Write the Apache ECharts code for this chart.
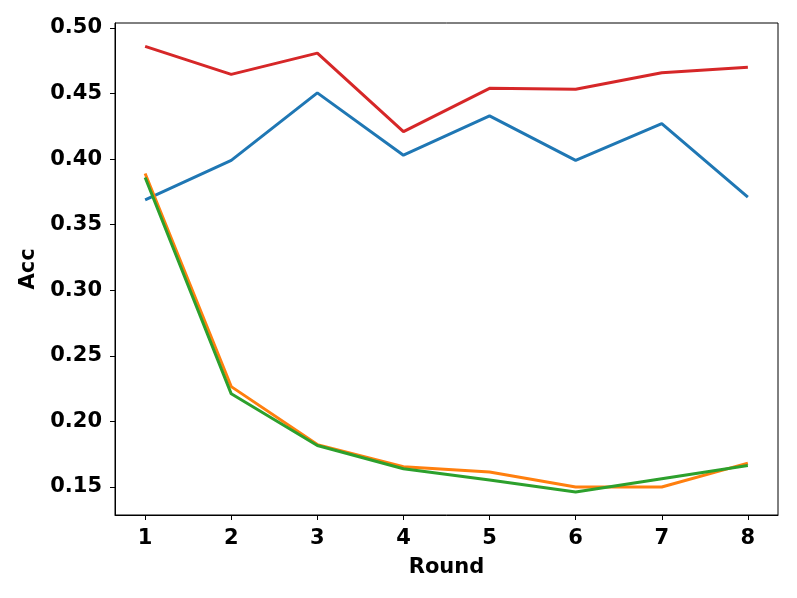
<!DOCTYPE html>
<html>
<head>
<meta charset="utf-8">
<script src="https://cdn.jsdelivr.net/npm/echarts@6/dist/echarts.min.js"></script>
<style>
  html, body { margin: 0; padding: 0; background: #fff; }
  #chart { width: 797px; height: 598px; }
</style>
</head>
<body>
<div id="chart"></div>
<script>
// x 轴：轮次
const rounds = [1, 2, 3, 4, 5, 6, 7, 8];
const yTicks = [0.15, 0.20, 0.25, 0.30, 0.35, 0.40, 0.45, 0.50];

// 四条曲线
const blueAcc = [0.369, 0.399, 0.4505, 0.403, 0.433, 0.399, 0.427, 0.371];
const orangeAcc = [0.389, 0.2265, 0.1823, 0.1654, 0.1614, 0.150, 0.150, 0.1682];
const greenAcc = [0.386, 0.221, 0.1816, 0.1639, 0.1553, 0.1462, 0.1563, 0.1664];
const redAcc = [0.486, 0.4646, 0.4808, 0.421, 0.454, 0.4533, 0.4659, 0.470];

const seriesDefs = [
    { name: 'blue', data: blueAcc, color: '#1f77b4' },
    { name: 'orange', data: orangeAcc, color: '#ff7f0e' },
    { name: 'green', data: greenAcc, color: '#2ca02c' },
    { name: 'red', data: redAcc, color: '#d62728' }
];

const font = 'DejaVu Sans';
const chart = echarts.init(document.getElementById('chart'));

const option = {
    animation: false,
    backgroundColor: '#fff',
    grid: {
        left: 115,
        right: 19,
        top: 23,
        bottom: 83,
        show: true,
        borderColor: '#000',
        borderWidth: 1,
        backgroundColor: 'transparent'
    },
    xAxis: {
        type: 'value',
        min: 0.65,
        max: 8.35,
        name: 'Round',
        nameLocation: 'middle',
        nameGap: 42,
        nameTextStyle: { fontFamily: font, fontWeight: 'bold', fontSize: 21, color: '#000' },
        axisLine: { show: true, lineStyle: { color: '#000', width: 1 } },
        axisTick: { show: true, inside: false, length: 5, customValues: rounds, lineStyle: { color: '#000' } },
        axisLabel: {
            customValues: rounds,
            margin: 13,
            fontFamily: font, fontWeight: 'bold', fontSize: 21, color: '#000'
        },
        splitLine: { show: false }
    },
    yAxis: {
        type: 'value',
        min: 0.1286,
        max: 0.5038,
        name: 'Acc',
        nameLocation: 'middle',
        nameGap: 74,
        nameRotate: 90,
        nameTextStyle: { fontFamily: font, fontWeight: 'bold', fontSize: 21, color: '#000' },
        axisLine: { show: true, lineStyle: { color: '#000', width: 1 } },
        axisTick: { show: true, inside: false, length: 5, customValues: yTicks, lineStyle: { color: '#000' } },
        axisLabel: {
            customValues: yTicks,
            margin: 13,
            formatter: v => v.toFixed(2),
            fontFamily: font, fontWeight: 'bold', fontSize: 21, color: '#000'
        },
        splitLine: { show: false }
    },
    series: seriesDefs.map(s => ({
        name: s.name,
        type: 'line',
        data: rounds.map((r, i) => [r, s.data[i]]),
        showSymbol: false,
        symbol: 'none',
        lineStyle: { color: s.color, width: 3 },
        itemStyle: { color: s.color }
    }))
};

chart.setOption(option);
</script>
</body>
</html>
